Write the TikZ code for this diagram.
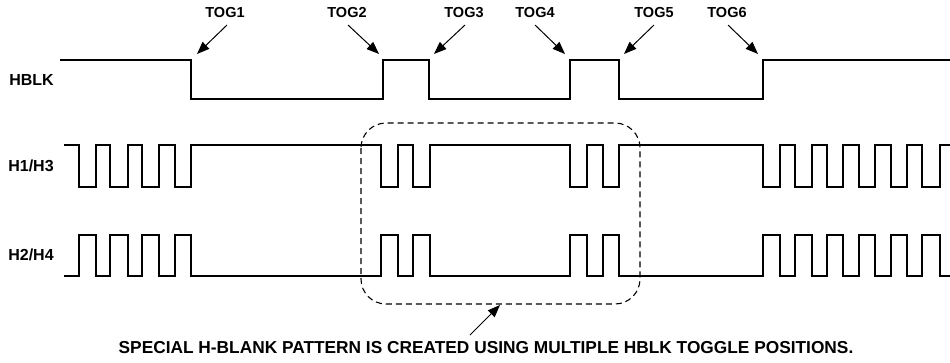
\documentclass[tikz,border=0pt]{standalone}
\usepackage{fontspec}
\setmainfont{Liberation Sans}
\usetikzlibrary{arrows.meta}
\begin{document}
\begin{tikzpicture}[x=1pt,y=-1pt,
  wave/.style={line width=2pt,line join=miter,line cap=butt},
  togl/.style={font=\fontsize{14.5}{16}\selectfont\bfseries,inner sep=0pt},
  sigl/.style={font=\fontsize{16}{18}\selectfont\bfseries,inner sep=0pt},
  notel/.style={font=\fontsize{17.3}{20}\selectfont\bfseries,inner sep=0pt},
  ptr/.style={line width=1pt,-{Triangle[length=12.5pt,width=9.5pt]}},
  blank/.style={dashed,dash pattern=on 6pt off 4pt,line width=1.1pt,rounded corners=25pt}]
\useasboundingbox (0,0) rectangle (950,362);
% labels
\node[sigl] (hblk) at (31.5,80) {HBLK};
\node[sigl] (h13) at (31,166) {H1/H3};
\node[sigl] (h24) at (31,255) {H2/H4};
% HBLK waveform
\draw[wave] (60,60) -- (191,60) -- (191,99) -- (383,99) -- (383,60) -- (429,60) -- (429,99)
  -- (570,99) -- (570,60) -- (619,60) -- (619,99) -- (763,99) -- (763,60) -- (950,60);
% H1/H3
\draw[wave] (64,145) foreach \a/\b in {79/96,110/128,142/159,175/191,381/398,413/430,570/587,603/619,763/780,795/812,827/843,859/875,891/907,922/940}
  { -- (\a,145) -- (\a,187) -- (\b,187) -- (\b,145) } -- (950,145);
% H2/H4
\draw[wave] (64,276) foreach \a/\b in {79/96,110/128,142/159,175/191,381/398,413/430,570/587,603/619,763/780,795/812,827/843,859/875,891/907,922/940}
  { -- (\a,276) -- (\a,235) -- (\b,235) -- (\b,276) } -- (950,276);
% TOG labels and arrows
\node[togl] (t1) at (225,13) {TOG1};
\node[togl] (t2) at (347,13) {TOG2};
\node[togl] (t3) at (464,13) {TOG3};
\node[togl] (t4) at (535,13) {TOG4};
\node[togl] (t5) at (654,13) {TOG5};
\node[togl] (t6) at (727,13) {TOG6};
\coordinate (s1) at (227,25); \coordinate (e1) at (197,54);
\coordinate (s2) at (348,25); \coordinate (e2) at (379,54);
\coordinate (s3) at (465,25); \coordinate (e3) at (434,54);
\coordinate (s4) at (535,25); \coordinate (e4) at (565,54);
\coordinate (s5) at (654,25); \coordinate (e5) at (624,54);
\coordinate (s6) at (728,25); \coordinate (e6) at (758,54);
\foreach \i in {1,...,6} { \draw[ptr] (s\i) -- (e\i); }
% dashed region
\draw[blank] (361,123) rectangle (640,304);
\node[notel] (note) at (486,348) {SPECIAL H-BLANK PATTERN IS CREATED USING MULTIPLE HBLK TOGGLE POSITIONS.};
\coordinate (ns) at (470,335); \coordinate (ne) at (500,305);
\draw[ptr] (ns) -- (ne);
\end{tikzpicture}
\end{document}
